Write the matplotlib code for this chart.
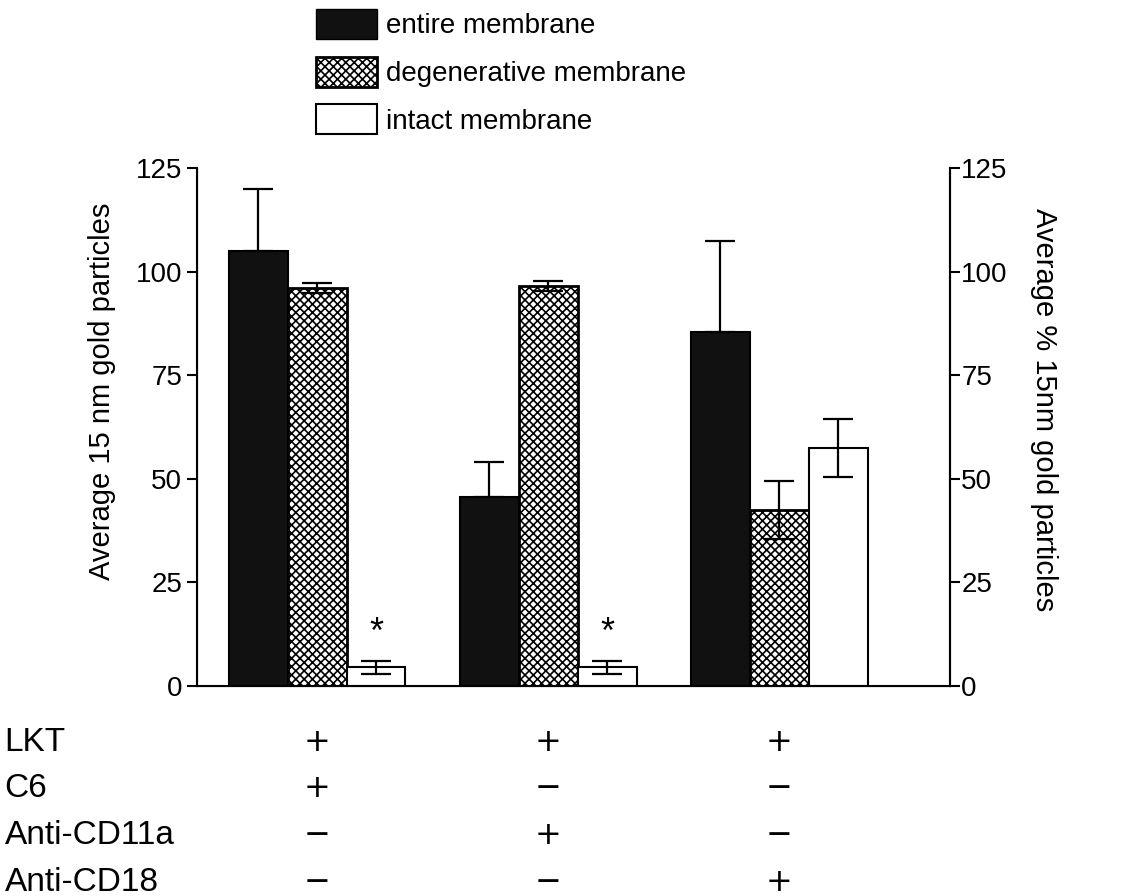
import numpy as np
import matplotlib.pyplot as plt
from matplotlib.patches import Patch

plt.rcParams['font.family'] = ['Liberation Sans', 'DejaVu Sans']
plt.rcParams['hatch.linewidth'] = 1.2

# data
series = ['entire membrane', 'degenerative membrane', 'intact membrane']
entire = [105, 45.5, 85.5]
entire_err = [15, 8.5, 22]
degen = [96, 96.5, 42.5]
degen_err = [1.2, 1.3, 7]
intact = [4.5, 4.5, 57.5]
intact_err = [1.5, 1.5, 7]
stars = [True, True, False]

row_labels = ['LKT', 'C6', 'Anti-CD11a', 'Anti-CD18']
table = [['+', '+', '+'],
         ['+', '\u2212', '\u2212'],
         ['\u2212', '+', '\u2212'],
         ['\u2212', '\u2212', '+']]

fig = plt.figure(figsize=(11.38, 8.96), dpi=100)
ax = fig.add_axes([0.173, 0.2344, 0.662, 0.5781])

x = np.arange(3)
w = 0.255
ekw = dict(ecolor='black', elinewidth=1.6, capsize=11, capthick=1.6)
ax.bar(x - w, entire, w, color='#111111', edgecolor='black', linewidth=1.5)
ax.errorbar(x - w, entire, yerr=[np.zeros(3), entire_err], fmt='none', **ekw)
ax.bar(x, degen, w, color='white', edgecolor='black', hatch='xxxx', linewidth=2)
ax.errorbar(x, degen, yerr=degen_err, fmt='none', **ekw)
ax.bar(x + w, intact, w, color='white', edgecolor='black', linewidth=1.5)
ax.errorbar(x + w, intact, yerr=intact_err, fmt='none', **ekw)

for i, s in enumerate(stars):
    if s:
        ax.text(x[i] + w, intact[i] + intact_err[i] + 2.5, '*', ha='center', va='bottom',
                fontsize=26)

ax.set_xlim(-0.52, 2.74)
ax.set_ylim(0, 125)
ax.set_yticks([0, 25, 50, 75, 100, 125])
ax.set_xticks([])
ax.spines['top'].set_visible(False)
for sp in ax.spines.values():
    sp.set_linewidth(1.5)
ax.tick_params(axis='y', labelsize=20, width=1.5, length=7)
ax.set_ylabel('Average 15 nm gold particles', fontsize=21)
ax.yaxis.set_label_coords(-0.108, 0.568)

ax2 = ax.twinx()
ax2.set_ylim(0, 125)
ax2.set_yticks([0, 25, 50, 75, 100, 125])
ax2.spines['top'].set_visible(False)
ax2.spines['right'].set_linewidth(1.5)
ax2.tick_params(axis='y', labelsize=20, width=1.5, length=7, pad=1)
ax2.set_ylabel('Average % 15nm gold particles', fontsize=21, rotation=270, va='center')
ax2.yaxis.set_label_coords(1.125, 0.533)

handles = [Patch(facecolor='#111111', edgecolor='black', label=series[0]),
           Patch(facecolor='white', edgecolor='black', hatch='xxxx', linewidth=2, label=series[1]),
           Patch(facecolor='white', edgecolor='black', linewidth=1.5, label=series[2])]
fig.legend(handles=handles, loc='upper left', bbox_to_anchor=(0.256, 1.018), frameon=False,
           fontsize=20, handlelength=2.2, handleheight=1.3, handletextpad=0.3, labelspacing=0.62)

# treatment table under the axis
row_y = [742, 788, 835, 882]
for r, lab in enumerate(row_labels):
    yf = 1 - row_y[r] / 896
    fig.text(0.004, yf, lab, fontsize=24, va='center', ha='left')
    for c in range(3):
        xf = ax.transData.transform((x[c], 0))[0] / fig.bbox.width
        fig.text(xf, yf, table[r][c], fontsize=23, va='center', ha='center',
                 fontfamily='DejaVu Sans')

fig.savefig('out.png', dpi=100)
